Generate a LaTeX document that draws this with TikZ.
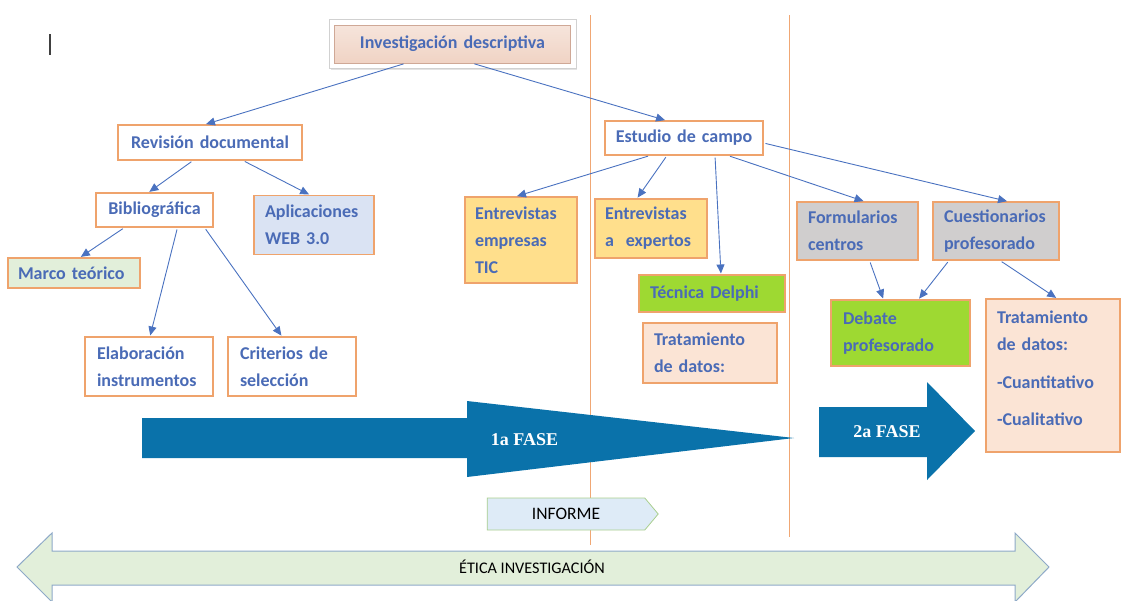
\documentclass[tikz,border=0pt]{standalone}
\usepackage{fontspec}
\setmainfont{Carlito}
\newfontfamily\fasefont{Liberation Serif}
\usetikzlibrary{arrows.meta,shapes.symbols,shadows,backgrounds}

\definecolor{boxline}{HTML}{EFA36C}
\definecolor{txtblue}{HTML}{4A6BB6}
\definecolor{linkblue}{HTML}{4A72C0}
\definecolor{peach}{HTML}{FBE4D5}
\definecolor{peachtop}{HTML}{F0D3C4}
\definecolor{peachedge}{HTML}{CFA896}
\definecolor{goldfill}{HTML}{FFDF8C}
\definecolor{limefill}{HTML}{9ED932}
\definecolor{grayfill}{HTML}{D0CECE}
\definecolor{bluefill}{HTML}{DAE3F3}
\definecolor{greenfill}{HTML}{E2EFDA}
\definecolor{phaseblue}{HTML}{0A72AA}
\definecolor{informefill}{HTML}{DEEBF7}
\definecolor{informeline}{HTML}{A9CF8E}
\definecolor{eticaline}{HTML}{8EA9C8}
\definecolor{divider}{HTML}{F0A774}

\tikzset{
  box/.style={draw=boxline, line width=1.1pt, fill=white, text=txtblue,
    font=\bfseries\fontsize{18}{27}\selectfont, align=left, inner sep=0pt},
  link/.style={draw=linkblue, line width=0.9pt,
    -{Triangle[length=9pt,width=8pt]}, shorten <=2pt, shorten >=1pt},
  phase/.style={fill=phaseblue, draw=none},
  phasetext/.style={text=white, font=\fasefont\bfseries\fontsize{18}{20}\selectfont},
  bandtext/.style={text=black, font=\fontsize{16.2}{18}\selectfont},
}

\begin{document}
\begin{tikzpicture}[x=1pt,y=-1pt]
\useasboundingbox (0,0) rectangle (1122,600);

% text cursor mark
\draw[black!75, line width=1.6pt] (50,34) -- (50,55);

% phase dividers
\coordinate (d1top) at (590,15);
\coordinate (d1bot) at (590,545);
\coordinate (d2top) at (789,15);
\coordinate (d2bot) at (789,537);
\draw[divider, line width=1pt] (d1top) -- (d1bot);
\draw[divider, line width=1pt] (d2top) -- (d2bot);

% root, inside a white raised frame
\node[box, draw=peachedge, line width=0.6pt, top color=peachtop!60!white, bottom color=peachtop,
      minimum width=236pt, minimum height=38pt, text width=234pt, align=center]
      (inv) at (452.5,44) {Investigación descriptiva};
\begin{scope}[on background layer]
  \filldraw[fill=white, draw=black!18, line width=0.6pt,
            drop shadow={shadow xshift=1.5pt, shadow yshift=-1.5pt, opacity=0.22}]
    ([shift={(-5,5)}]inv.south west) rectangle ([shift={(5,-5)}]inv.north east);
\end{scope}

% first branch
\node[box, minimum width=184pt, minimum height=35pt, text width=182pt, align=center]
  (rev) at (210,142.5) {Revisión documental};
\node[box, minimum width=117pt, minimum height=34pt, text width=115pt, align=center]
  (bib) at (154.5,210) {Bibliográfica};
\node[box, fill=bluefill, minimum width=120pt, minimum height=59pt, text width=98pt]
  (apl) at (314,225) {Aplicaciones\\WEB 3.0};
\node[box, fill=greenfill, minimum width=132pt, minimum height=30pt, text width=112pt]
  (marco) at (74,273) {Marco teórico};
\node[box, minimum width=128pt, minimum height=59pt, text width=104pt]
  (elab) at (149,366.5) {Elaboración\\instrumentos};
\node[box, minimum width=128pt, minimum height=59pt, text width=104pt]
  (crit) at (292,366.5) {Criterios de\\selección};

% second branch
\node[box, minimum width=158pt, minimum height=34pt, text width=156pt, align=center]
  (est) at (684,138) {Estudio de campo};
\node[box, fill=goldfill, minimum width=112pt, minimum height=86pt, text width=92pt]
  (emp) at (521,240) {Entrevistas\\empresas\\TIC};
\node[box, fill=goldfill, minimum width=112pt, minimum height=59pt, text width=92pt]
  (exp) at (651,228.5) {Entrevistas\\a\ \ expertos};
\node[box, fill=limefill, minimum width=146pt, minimum height=37pt, text width=124pt]
  (del) at (712,293.5) {Técnica Delphi};
\node[box, fill=peach, minimum width=134pt, minimum height=60pt, text width=112pt]
  (tra) at (710,353) {Tratamiento\\de datos:};
\node[box, fill=grayfill, minimum width=121pt, minimum height=58pt, text width=99pt]
  (form) at (857.5,231) {Formularios\\centros};
\node[box, fill=grayfill, minimum width=126pt, minimum height=58pt, text width=104pt]
  (cues) at (996,231) {Cuestionarios\\profesorado};
\node[box, fill=limefill, minimum width=139pt, minimum height=66pt, text width=115pt]
  (deb) at (900.5,333) {Debate\\profesorado};
\node[box, fill=peach, minimum width=134pt, minimum height=153pt, text width=112pt]
  (trb) at (1053,375.5) {Tratamiento\\de datos:\\[11pt]-Cuantitativo\\[10pt]-Cualitativo\rule[-14pt]{0pt}{1pt}};

% connectors
\draw[link] ([xshift=-47pt]inv.south) -- ([xshift=-5pt]rev.north);
\draw[link] ([xshift=20pt]inv.south) -- ([xshift=-18pt]est.north);
\draw[link] ([xshift=-17pt]rev.south) -- ([xshift=-6pt]bib.north);
\draw[link] ([xshift=33pt]rev.south) -- ([xshift=-4pt]apl.north);
\draw[link] ([xshift=-30pt]bib.south) -- ([xshift=6pt]marco.north);
\draw[link] ([xshift=23pt]bib.south) -- ([xshift=1pt]elab.north);
\draw[link] ([xshift=50pt]bib.south) -- ([xshift=-10pt]crit.north);
\draw[link] ([xshift=-34pt]est.south) -- ([xshift=-5pt]emp.north);
\draw[link] ([xshift=-17pt]est.south) -- ([xshift=-14pt]exp.north);
\draw[link] ([xshift=31pt]est.south) -- ([xshift=9pt]del.north);
\draw[link] ([xshift=44pt]est.south) -- ([xshift=7pt]form.north);
\draw[link] ([yshift=-5pt]est.east) -- ([xshift=12pt]cues.north);
\draw[link] ([xshift=12pt]form.south) -- ([xshift=-17pt]deb.north);
\draw[link] ([xshift=-47pt]cues.south) -- ([xshift=18pt]deb.north);
\draw[link] ([xshift=4pt]cues.south) -- ([xshift=4pt]trb.north);

% phase arrows
\fill[phase] (142,418) -- (467,418) -- (467,401) -- (794,438) -- (467,477)
  -- (467,458) -- (142,458) -- cycle;
\node[phasetext] (f1) at (524.5,440) {1a FASE};
\fill[phase] (819,407) -- (927,407) -- (927,382) -- (975,431) -- (927,480)
  -- (927,457) -- (819,457) -- cycle;
\node[phasetext] (f2) at (887,432) {2a FASE};

% report tag
\node[signal, signal to=east, signal pointer angle=100, fill=informefill,
      draw=informeline, line width=0.8pt, minimum width=171pt, minimum height=32pt,
      inner sep=0pt, font=\fontsize{17.5}{20}\selectfont] (inf) at (566,514) {INFORME};

% ethics band
\filldraw[fill=greenfill, draw=eticaline, line width=1pt]
  (17,567) -- (52,533) -- (52,551) -- (1015,551) -- (1015,533) -- (1049,567)
  -- (1015,602) -- (1015,585) -- (52,585) -- (52,602) -- cycle;
\node[bandtext] (etica) at (532,567) {ÉTICA INVESTIGACIÓN};
\end{tikzpicture}
\end{document}
